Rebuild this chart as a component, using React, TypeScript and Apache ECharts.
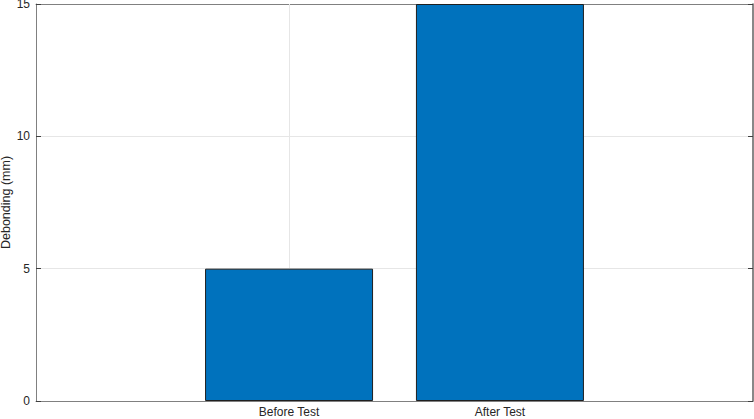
import React, { useEffect, useRef } from "react";
import * as echarts from "echarts";

const categories = ["Before Test", "After Test"];
const debonding = [5, 15];
const yMin = 0;
const yMax = 15;
const yInterval = 5;
const xMin = -0.2;
const xMax = 3.2;
const positions = categories.map((_, i) => i + 1);

export default function App() {
  const ref = useRef<HTMLDivElement>(null);
  useEffect(() => {
    document.body.style.margin = "0";
    if (!ref.current) return;
    const chart = echarts.init(ref.current, null, { renderer: "svg" });
    const font = "Liberation Sans, Arial, Helvetica, sans-serif";
    const axisColor = "#808080";
    const gridColor = "#e6e6e6";
    const labelFormatter = (v: number) => {
      const idx = positions.indexOf(Math.round(v * 1000) / 1000);
      return idx >= 0 ? categories[idx] : "";
    };
    chart.setOption({
      animation: false,
      backgroundColor: "#ffffff",
      grid: { left: 36, right: 1, top: 4, bottom: 18, containLabel: false, outerBoundsMode: "none" },
      xAxis: [
        {
          type: "value",
          min: xMin,
          max: xMax,
          position: "bottom",
          axisLine: { show: true, onZero: false, lineStyle: { color: axisColor, width: 1 } },
          axisTick: { show: true, inside: true, length: 5, customValues: positions, lineStyle: { color: "#404040" } },
          axisLabel: { show: true, customValues: positions, formatter: labelFormatter, color: "#262626", fontSize: 12, fontFamily: font, margin: 5 },
          splitLine: { show: false },
        },
        {
          type: "value",
          min: xMin,
          max: xMax,
          position: "top",
          axisLine: { show: true, onZero: false, lineStyle: { color: axisColor, width: 1 } },
          axisTick: { show: true, inside: true, length: 5, customValues: positions, lineStyle: { color: "#404040" } },
          axisLabel: { show: false },
          splitLine: { show: false },
        },
      ],
      yAxis: [
        {
          type: "value",
          min: yMin,
          max: yMax,
          interval: yInterval,
          position: "left",
          name: "Debonding (mm)",
          nameLocation: "middle",
          nameGap: 24,
          nameMoveOverlap: false,
          nameTextStyle: { color: "#262626", fontSize: 12.5, fontFamily: font },
          axisLine: { show: true, onZero: false, lineStyle: { color: axisColor, width: 1 } },
          axisTick: { show: true, inside: true, length: 5, lineStyle: { color: "#404040" } },
          axisLabel: { color: "#262626", fontSize: 12, fontFamily: font, margin: 6 },
          splitLine: { show: true, lineStyle: { color: gridColor, width: 1 } },
        },
        {
          type: "value",
          min: yMin,
          max: yMax,
          interval: yInterval,
          position: "right",
          axisLine: { show: true, onZero: false, lineStyle: { color: "#606060", width: 1.5 } },
          axisTick: { show: true, inside: true, length: 5, lineStyle: { color: "#404040" } },
          axisLabel: { show: false },
          splitLine: { show: false },
        },
      ],
      series: [
        {
          type: "bar",
          xAxisIndex: 0,
          yAxisIndex: 0,
          z: 3,
          barWidth: 168,
          data: categories.map((_, i) => [positions[i], debonding[i]]),
          itemStyle: { color: "#0072BD", borderColor: "#1f1f1f", borderWidth: 1 },
          markLine: {
            silent: true,
            z: 1,
            symbol: "none",
            label: { show: false },
            lineStyle: { color: gridColor, width: 1, type: "solid" },
            data: positions.map((p) => ({ xAxis: p })),
          },
        },
      ],
    });
    return () => chart.dispose();
  }, []);
  return <div ref={ref} style={{ width: 754, height: 419 }} />;
}
